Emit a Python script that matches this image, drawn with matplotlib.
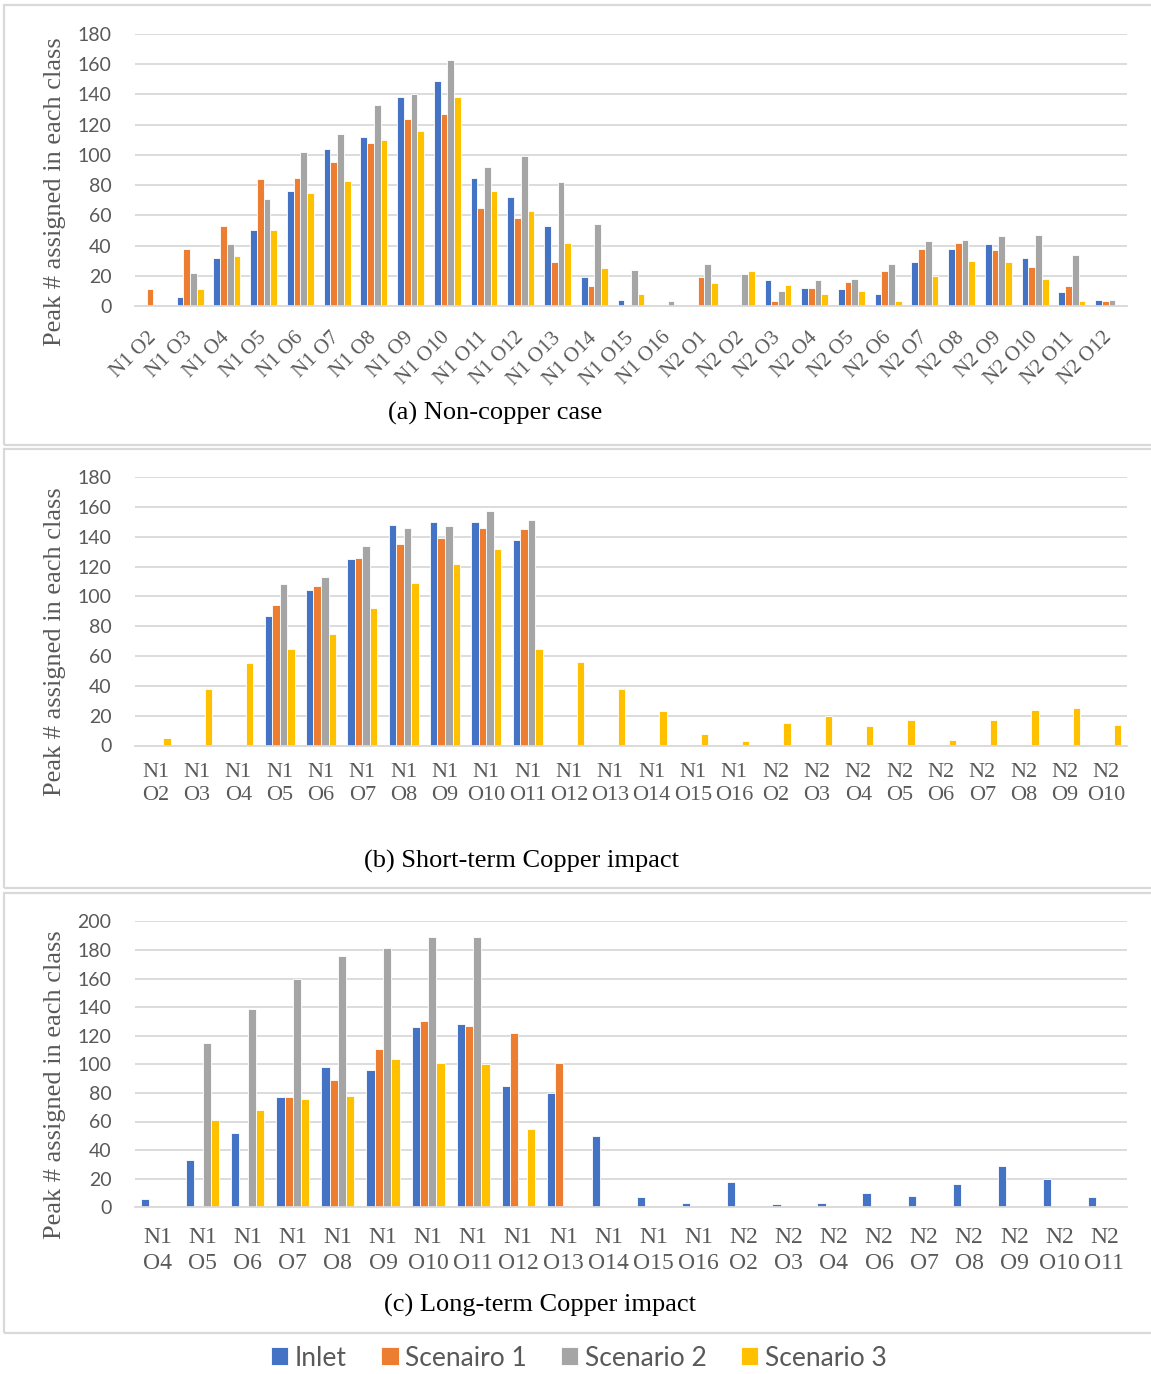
import matplotlib
matplotlib.use("Agg")
import matplotlib.pyplot as plt
import numpy as np
from matplotlib.patches import Rectangle


# ───────────────────────── data ───────────────────────── #

series_names = ["Inlet", "Scenairo 1", "Scenario 2", "Scenario 3"]
colors = ["#4472C4", "#ED7D31", "#A5A5A5", "#FFC000"]

# (a) non-copper case
cats_a = ["N1 O2", "N1 O3", "N1 O4", "N1 O5", "N1 O6", "N1 O7", "N1 O8", "N1 O9",
          "N1 O10", "N1 O11", "N1 O12", "N1 O13", "N1 O14", "N1 O15", "N1 O16",
          "N2 O1", "N2 O2", "N2 O3", "N2 O4", "N2 O5", "N2 O6", "N2 O7", "N2 O8",
          "N2 O9", "N2 O10", "N2 O11", "N2 O12"]
inlet_a = [0, 6, 32, 50, 76, 104, 112, 138, 149, 85, 72, 53, 19, 4, 0,
           0, 0, 17, 12, 11, 8, 29, 38, 41, 32, 9, 4]
scen1_a = [11, 38, 53, 84, 85, 95, 108, 124, 127, 65, 58, 29, 13, 0, 0,
           19, 0, 3, 12, 16, 23, 38, 42, 37, 26, 13, 3]
scen2_a = [0, 22, 41, 71, 102, 114, 133, 140, 163, 92, 99, 82, 54, 24, 3,
           28, 21, 10, 17, 18, 28, 43, 44, 46, 47, 34, 4]
scen3_a = [0, 11, 33, 50, 75, 83, 110, 116, 138, 76, 63, 42, 25, 8, 0,
           15, 23, 14, 8, 10, 3, 20, 30, 29, 18, 3, 0]

# (b) short-term copper impact
cats_b = ["N1 O2", "N1 O3", "N1 O4", "N1 O5", "N1 O6", "N1 O7", "N1 O8", "N1 O9",
          "N1 O10", "N1 O11", "N1 O12", "N1 O13", "N1 O14", "N1 O15", "N1 O16",
          "N2 O2", "N2 O3", "N2 O4", "N2 O5", "N2 O6", "N2 O7", "N2 O8", "N2 O9",
          "N2 O10"]
inlet_b = [0, 0, 0, 87, 104, 125, 148, 150, 150, 138, 0, 0, 0, 0, 0,
           0, 0, 0, 0, 0, 0, 0, 0, 0]
scen1_b = [0, 0, 0, 94, 107, 126, 135, 139, 146, 145, 0, 0, 0, 0, 0,
           0, 0, 0, 0, 0, 0, 0, 0, 0]
scen2_b = [0, 0, 0, 108, 113, 134, 146, 147, 157, 151, 0, 0, 0, 0, 0,
           0, 0, 0, 0, 0, 0, 0, 0, 0]
scen3_b = [5, 38, 55, 65, 75, 92, 109, 122, 132, 65, 56, 38, 23, 8, 3,
           15, 20, 13, 17, 4, 17, 24, 25, 14]

# (c) long-term copper impact
cats_c = ["N1 O4", "N1 O5", "N1 O6", "N1 O7", "N1 O8", "N1 O9", "N1 O10", "N1 O11",
          "N1 O12", "N1 O13", "N1 O14", "N1 O15", "N1 O16", "N2 O2", "N2 O3",
          "N2 O4", "N2 O6", "N2 O7", "N2 O8", "N2 O9", "N2 O10", "N2 O11"]
inlet_c = [6, 33, 52, 77, 98, 96, 126, 128, 85, 80, 50, 7, 3,
           18, 2, 3, 10, 8, 16, 29, 20, 7]
scen1_c = [0, 0, 0, 77, 89, 111, 130, 127, 122, 101, 0, 0, 0,
           0, 0, 0, 0, 0, 0, 0, 0, 0]
scen2_c = [0, 115, 139, 160, 176, 181, 189, 189, 0, 0, 0, 0, 0,
           0, 0, 0, 0, 0, 0, 0, 0, 0]
scen3_c = [0, 61, 68, 76, 78, 104, 101, 100, 55, 0, 0, 0, 0,
           0, 0, 0, 0, 0, 0, 0, 0, 0]

captions = ["(a) Non-copper case", "(b) Short-term Copper impact",
            "(c) Long-term Copper impact"]
ylabel = "Peak # assigned in each class"


# ───────────────────────── helpers ───────────────────────── #

W, H = 1151, 1374
SERIF = "Liberation Serif"
SANS = "Lato"
TXT = "#595959"
GRID = "#D9D9D9"


def fx(px):
    return px / W


def fy(py):
    return 1 - py / H


def draw_panel(ax, cats, series, ymax, rotate, xfont, xpad, lspace):
    x = np.arange(len(cats))
    w = 0.183
    bars = []
    for i, (vals, c) in enumerate(zip(series, colors)):
        vals = np.asarray(vals, float)
        vals = np.where(vals > 0, vals, np.nan)  # empty slots stay empty
        b = ax.bar(x + (i - 1.5) * w, vals, w, color=c,
                   edgecolor="white", linewidth=0.6, zorder=2)
        bars.append(b)

    ax.set_xlim(-0.5, len(cats) - 0.5)
    ax.set_ylim(0, ymax)
    ax.set_yticks(np.arange(0, ymax + 1, 20))
    ax.yaxis.grid(True, color=GRID, linewidth=1.3, zorder=0)
    ax.set_axisbelow(True)
    for s in ("top", "right", "left"):
        ax.spines[s].set_visible(False)
    ax.spines["bottom"].set_color(GRID)
    ax.spines["bottom"].set_linewidth(1.3)

    ax.tick_params(axis="y", length=0, pad=17, labelsize=14, labelcolor=TXT)
    for t in ax.get_yticklabels():
        t.set_fontfamily(SANS)

    ax.set_xticks(x)
    ax.tick_params(axis="x", length=0, pad=xpad, labelcolor=TXT)
    if rotate:
        ax.set_xticklabels(cats, rotation=45, ha="right", va="center",
                           rotation_mode="anchor", fontsize=xfont,
                           fontfamily=SERIF)
    else:
        ax.set_xticklabels([c.replace(" ", "\n") for c in cats],
                           fontsize=xfont, fontfamily=SERIF, linespacing=lspace)
    return bars


def frame(fig, top, bottom):
    fig.add_artist(Rectangle((fx(4), fy(bottom)), fx(1160) - fx(4),
                             fy(top) - fy(bottom), transform=fig.transFigure,
                             fill=False, edgecolor=GRID, linewidth=1.6))


# ───────────────────────── figure ───────────────────────── #

fig = plt.figure(figsize=(W / 100, H / 100), dpi=100)
fig.patch.set_facecolor("white")

left, right = fx(135), fx(1127)
panels = [
    # (top px, bottom px, ymax, cats, series, rotate, xfont, xpad, linespacing)
    (34, 306, 180, cats_a, [inlet_a, scen1_a, scen2_a, scen3_a], True, 15, 21, 1.0),
    (477, 745.5, 180, cats_b, [inlet_b, scen1_b, scen2_b, scen3_b], False, 16, 12.5, 1.3),
    (921.3, 1207.3, 200, cats_c, [inlet_c, scen1_c, scen2_c, scen3_c], False, 17, 14.5, 1.28),
]

handles = None
for top, bot, ymax, cats, series, rot, xf, xp, ls in panels:
    ax = fig.add_axes([left, fy(bot), right - left, fy(top) - fy(bot)])
    bars = draw_panel(ax, cats, series, ymax, rot, xf, xp, ls)
    handles = handles or bars

# y-axis titles
for yc in (192, 642, 1085):
    fig.text(fx(55), fy(yc), ylabel, rotation=90, ha="center", va="center",
             fontsize=19, fontfamily=SERIF, color=TXT)

# captions
for (xc, yc), cap in zip([(495, 413), (521, 861), (540, 1305)], captions):
    fig.text(fx(xc), fy(yc), cap, ha="center", va="center",
             fontsize=19, fontfamily=SERIF, color="black")

# panel frames
frame(fig, 5, 445)
frame(fig, 449, 888)
frame(fig, 893, 1333)

fig.legend(handles, series_names, loc="center", bbox_to_anchor=(fx(579), fy(1358)),
           ncol=4, frameon=False, handlelength=0.65, handleheight=0.65,
           handletextpad=0.25, columnspacing=1.3,
           prop={"family": SANS, "size": 19}, labelcolor=TXT)

fig.savefig("out.png", dpi=100, facecolor="white")
